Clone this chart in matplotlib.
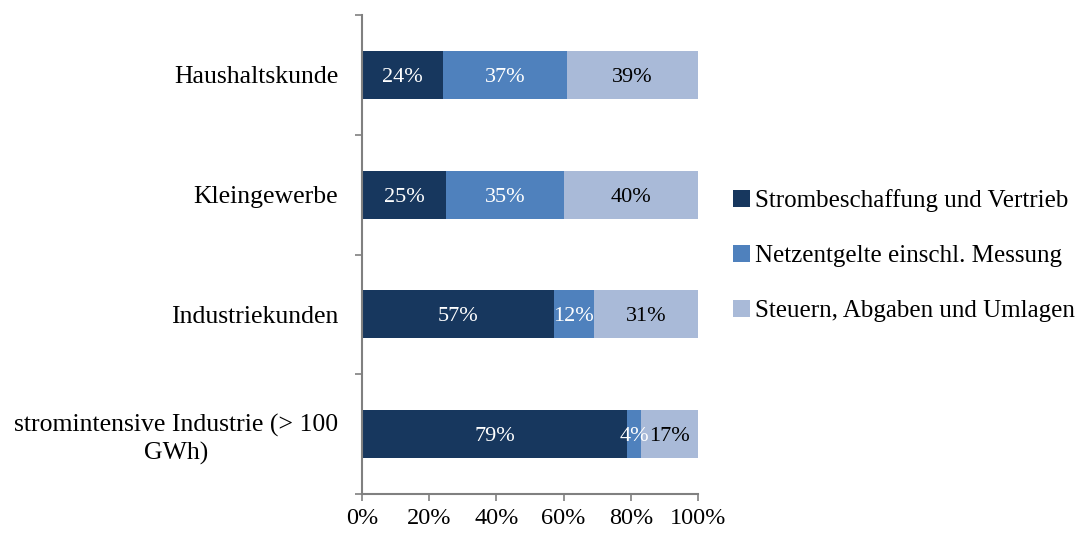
import matplotlib.pyplot as plt
import numpy as np

categories = ["Haushaltskunde", "Kleingewerbe", "Industriekunden",
              "stromintensive Industrie (> 100\nGWh)"]
series_names = ["Strombeschaffung und Vertrieb",
                "Netzentgelte einschl. Messung",
                "Steuern, Abgaben und Umlagen"]
beschaffung = [24, 25, 57, 79]
netz = [37, 35, 12, 4]
steuern = [39, 40, 31, 17]

colors = ["#17375E", "#4F81BD", "#A9BAD8"]
text_colors = ["white", "white", "black"]

plt.rcParams['font.family'] = ['Liberation Serif', 'DejaVu Serif']

fig = plt.figure(figsize=(10.84, 5.36), dpi=100)
ax = fig.add_axes([362 / 1084, 1 - 494 / 536, 336 / 1084, 479 / 536])

y = np.arange(len(categories))
left = np.zeros(len(categories))
for vals, name, c, tc in zip([beschaffung, netz, steuern], series_names, colors, text_colors):
    vals = np.array(vals, dtype=float)
    bars = ax.barh(y, vals, left=left, height=0.4, color=c, label=name)
    for b, v in zip(bars, vals):
        ax.text(b.get_x() + b.get_width() / 2, b.get_y() + b.get_height() / 2,
                f"{int(v)}%", ha='center', va='center_baseline', color=tc, fontsize=16)
    left += vals

ax.set_xlim(0, 100)
ax.set_ylim(3.5, -0.5)
ax.set_xticks(np.arange(0, 101, 20))
ax.set_xticklabels([f"{v}%" for v in range(0, 101, 20)], fontsize=17.5)
ax.set_yticks(y)
ax.set_yticklabels(categories, fontsize=18.5, linespacing=1.3)
for lab in ax.get_yticklabels():
    lab.set_multialignment('center')
ax.set_yticks(np.arange(-0.5, 4, 1), minor=True)
ax.tick_params(axis='y', which='major', length=0, pad=17)
ax.tick_params(axis='y', which='minor', length=5, width=1.2, color='#808080')
ax.tick_params(axis='x', length=5, width=1.2, color='#808080', pad=5)

for s in ['top', 'right']:
    ax.spines[s].set_visible(False)
for s in ['left', 'bottom']:
    ax.spines[s].set_color('#808080')
    ax.spines[s].set_linewidth(1.5)

fig.legend(loc='center left', bbox_to_anchor=(710 / 1084, 1 - 256 / 536),
           frameon=False, fontsize=18, handlelength=0.7, handleheight=0.7,
           handletextpad=0.2, labelspacing=1.3)

fig.savefig("out.png", dpi=100)
